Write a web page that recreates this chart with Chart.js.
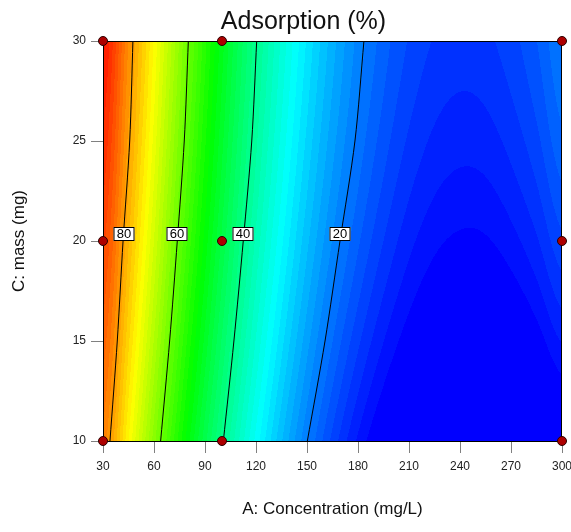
<!DOCTYPE html>
<html>
<head>
<meta charset="utf-8">
<script src="https://cdn.jsdelivr.net/npm/chart.js@4.4.1/dist/chart.umd.min.js"></script>
<style>
html,body{margin:0;padding:0;background:#fff;}
#wrap{width:571px;height:532px;}
</style>
</head>
<body>
<div id="wrap"><canvas id="c" width="571" height="532"></canvas></div>
<script>
// ---------- data ----------
const chartTitle = 'Adsorption (%)';
const xAxisTitle = 'A: Concentration (mg/L)';
const yAxisTitle = 'C: mass (mg)';

const xTicks = [30, 60, 90, 120, 150, 180, 210, 240, 270, 300];
const yTicks = [10, 15, 20, 25, 30];

// response surface grid: concentration columns x mass rows
const concentrationA = [30, 45, 60, 75, 90, 105, 120, 135, 150, 165, 180, 195, 210, 225, 240, 255, 270, 285, 300];
const massC = [10, 20, 30];
const adsorptionAtC10 = [82.7, 72.6, 62.6, 53.5, 45.4, 38.0, 31.3, 25.3, 20.05, 15.5, 11.7, 8.8, 6.8, 5.4, 4.6, 4.4, 4.8, 5.9, 7.6];
const adsorptionAtC20 = [87.5, 78.0, 68.6, 59.25, 51.0, 43.5, 36.7, 30.75, 25.5, 21.1, 17.5, 14.6, 12.4, 11.0, 10.4, 10.5, 11.45, 13.1, 15.6];
const adsorptionAtC30 = [91.5, 81.7, 72.4, 63.2, 54.6, 47.0, 40.1, 34.1, 28.9, 24.4, 20.75, 17.9, 15.8, 14.5, 14.0, 14.3, 15.4, 17.2, 19.9];

// contour lines: concentration where each level is crossed, at these masses
const contourMass = [10, 15, 20, 25, 30];
const contour80 = [34.1, 38.4, 41.8, 45.7, 47.6];
const contour60 = [63.9, 69.2, 73.7, 77.8, 80.2];
const contour40 = [100.8, 107.0, 112.5, 117.5, 120.4];
const contour20 = [150.2, 160.6, 169.4, 178.2, 183.5];
const contourLevels = [80, 60, 40, 20];
const contourLabelA = [42.1, 73.5, 112.4, 169.4];
const contourLabelC = [20.35, 20.35, 20.35, 20.35];

// design points
const designA = [30, 100, 300, 30, 100, 300, 30, 100, 300];
const designC = [30, 30, 30, 20, 20, 20, 10, 10, 10];

// colour scale range (value at blue end, value at red end)
const colourMin = 10;
const colourMax = 93;

// ---------- helpers ----------
const FONT = "'Liberation Sans', Arial, Helvetica, sans-serif";
const rows = [adsorptionAtC10, adsorptionAtC20, adsorptionAtC30];

function locate(arr, v) {
  if (v <= arr[0]) return [0, 0];
  const n = arr.length;
  if (v >= arr[n - 1]) return [n - 2, 1];
  for (let i = 0; i < n - 1; i++) {
    if (v >= arr[i] && v <= arr[i + 1]) return [i, (v - arr[i]) / (arr[i + 1] - arr[i])];
  }
  return [n - 2, 1];
}
function rowValue(r, i, fx) {
  // Catmull-Rom style smoothing between grid columns
  const n = r.length;
  const p0 = r[Math.max(0, i - 1)], p1 = r[i], p2 = r[i + 1], p3 = r[Math.min(n - 1, i + 2)];
  const t = fx, t2 = t * t, t3 = t2 * t;
  return 0.5 * ((2 * p1) + (-p0 + p2) * t + (2 * p0 - 5 * p1 + 4 * p2 - p3) * t2 + (-p0 + 3 * p1 - 3 * p2 + p3) * t3);
}
function valueAt(A, C) {
  const [i, fx] = locate(concentrationA, A);
  const v = rows.map(r => rowValue(r, i, fx));
  // quadratic through the three mass rows (10, 20, 30)
  const u = (C - massC[0]) / (massC[1] - massC[0]); // 0..2
  const l0 = (u - 1) * (u - 2) / 2, l1 = -u * (u - 2), l2 = u * (u - 1) / 2;
  return v[0] * l0 + v[1] * l1 + v[2] * l2;
}
const stops = [[0, 0, 255], [0, 255, 255], [0, 255, 0], [255, 255, 0], [255, 0, 0]];
function colourFor(v) {
  let t = (v - colourMin) / (colourMax - colourMin);
  t = Math.max(0, Math.min(1, t));
  t = Math.round(t * 63) / 63;
  const s = t * 4;
  const k = Math.min(3, Math.floor(s));
  const f = s - k;
  const a = stops[k], b = stops[k + 1];
  return [a[0] + (b[0] - a[0]) * f, a[1] + (b[1] - a[1]) * f, a[2] + (b[2] - a[2]) * f];
}

const fieldPlugin = {
  id: 'field',
  beforeDatasetsDraw(chart) {
    const { ctx, chartArea: ca, scales: { x, y } } = chart;
    const L = Math.round(ca.left), T = Math.round(ca.top);
    const w = Math.round(ca.right) - L, h = Math.round(ca.bottom) - T;
    const off = document.createElement('canvas');
    off.width = w; off.height = h;
    const octx = off.getContext('2d');
    const img = octx.createImageData(w, h);
    const d = img.data;
    for (let py = 0; py < h; py++) {
      const C = y.getValueForPixel(T + py + 0.5);
      for (let px = 0; px < w; px++) {
        const A = x.getValueForPixel(L + px + 0.5);
        const c = colourFor(valueAt(A, C));
        const o = (py * w + px) * 4;
        d[o] = c[0]; d[o + 1] = c[1]; d[o + 2] = c[2]; d[o + 3] = 255;
      }
    }
    octx.putImageData(img, 0, 0);
    ctx.save();
    ctx.drawImage(off, L, T);
    ctx.strokeStyle = '#000';
    ctx.lineWidth = 1;
    ctx.strokeRect(L + 0.5, T + 0.5, w - 1, h);
    ctx.restore();
  },
  afterDatasetDraw(chart, args) {
    if (args.index !== 1) return;
    const { ctx, scales: { x, y } } = chart;
    ctx.save();
    ctx.font = '13px ' + FONT;
    ctx.textAlign = 'center';
    ctx.textBaseline = 'middle';
    for (let i = 0; i < contourLevels.length; i++) {
      const cx = Math.round(x.getPixelForValue(contourLabelA[i]));
      const cy = Math.round(y.getPixelForValue(contourLabelC[i]));
      const bw = 21, bh = 14;
      ctx.fillStyle = '#fff';
      ctx.fillRect(cx - bw / 2, cy - bh / 2, bw, bh);
      ctx.strokeStyle = '#000';
      ctx.lineWidth = 1;
      ctx.strokeRect(cx - bw / 2 + 0.5, cy - bh / 2 + 0.5, bw - 1, bh - 1);
      ctx.fillStyle = '#000';
      ctx.fillText(String(contourLevels[i]), cx, cy + 0.5);
    }
    ctx.restore();
  },
  afterLayout(chart) {
    if (chart.titleBlock) {
      chart.titleBlock.left = 36;
      chart.titleBlock.right = 571;
    }
  }
};

function line(arr) {
  return {
    type: 'scatter',
    showLine: true,
    data: contourMass.map((c, i) => ({ x: arr[i], y: c })),
    borderColor: '#000',
    borderWidth: 1,
    pointRadius: 0,
    tension: 0.3,
    fill: false
  };
}

new Chart(document.getElementById('c'), {
  type: 'scatter',
  data: {
    datasets: [
      {
        data: designA.map((a, i) => ({ x: a, y: designC[i] })),
        backgroundColor: '#ad0000',
        borderColor: '#2a0000',
        borderWidth: 1,
        pointRadius: 4.5,
        clip: false
      },
      line(contour80),
      line(contour60),
      line(contour40),
      line(contour20)
    ]
  },
  options: {
    responsive: false,
    animation: false,
    events: [],
    layout: { padding: { left: 0, right: 9, top: 0, bottom: 0 } },
    plugins: {
      legend: { display: false },
      tooltip: { enabled: false },
      title: {
        display: true,
        text: chartTitle,
        color: '#111',
        font: { family: FONT, size: 25, weight: 'normal' },
        padding: { top: 7, bottom: 4 }
      }
    },
    scales: {
      x: {
        type: 'linear',
        min: 30, max: 300,
        afterBuildTicks: (s) => { s.ticks = xTicks.map(v => ({ value: v })); },
        afterFit: (s) => { s.height = 91; s.paddingLeft = 0; s.paddingRight = 0; },
        grid: { drawOnChartArea: false, tickLength: 12, color: '#808080', lineWidth: 1 },
        border: { display: false },
        ticks: { color: '#222', padding: 6, font: { family: FONT, size: 12 }, maxRotation: 0, autoSkip: false },
        title: {
          display: true, text: xAxisTitle, color: '#111',
          font: { family: FONT, size: 17 },
          padding: { top: 0, bottom: 12 }
        }
      },
      y: {
        type: 'linear',
        min: 10, max: 30,
        afterBuildTicks: (s) => { s.ticks = yTicks.map(v => ({ value: v })); },
        afterFit: (s) => { s.width = 103; s.paddingTop = 0; s.paddingBottom = 0; },
        grid: { drawOnChartArea: false, tickLength: 12, color: '#808080', lineWidth: 1 },
        border: { display: false },
        ticks: { color: '#222', padding: 5, font: { family: FONT, size: 12 }, autoSkip: false },
        title: {
          display: true, text: yAxisTitle, color: '#111',
          font: { family: FONT, size: 17 },
          padding: { top: 9, bottom: 0 }
        }
      }
    }
  },
  plugins: [fieldPlugin]
});
</script>
</body>
</html>
